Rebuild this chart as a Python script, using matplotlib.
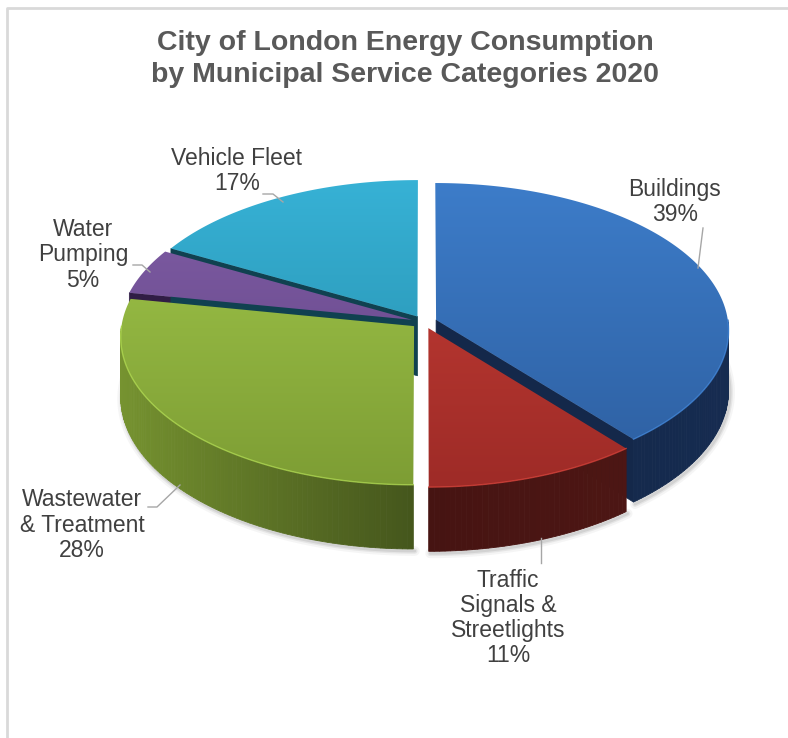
import numpy as np
import matplotlib.pyplot as plt
from matplotlib.patches import Polygon
from matplotlib.colors import to_rgb

plt.rcParams['font.family'] = ['Liberation Sans', 'DejaVu Sans']

# data
categories = ["Buildings", "Traffic\nSignals &\nStreetlights", "Wastewater\n& Treatment",
              "Water\nPumping", "Vehicle Fleet"]
values = [39, 11, 28, 5, 17]
title = "City of London Energy Consumption\nby Municipal Service Categories 2020"

# colours: top face light / dark, side wall (front, darkest)
top_hi = ["#3d7dca", "#c73e36", "#a2c84b", "#8260a8", "#37b2d6"]
top_lo = ["#2d5e9f", "#9e2b27", "#7d9d34", "#5e3f80", "#2489a6"]
side_col = ["#132646", "#461412", "#45561c", "#2e1c42", "#0f3e4c"]

# label layout (pixel coords)
label_xy = [(675, 202), (508, 618), (82, 525), (83, 255), (237, 171)]
leaders = [[(703, 228), (698, 268)],
           [(541, 563), (541, 538)],
           [(148, 507), (157, 507), (180, 485)],
           [(133, 265), (142, 265), (150, 272)],
           [(263, 194), (273, 194), (283, 202)]]

# pie geometry (pixels), p = perspective strength
cx, cy, a, b, h, p, e = 424, 322, 292, 146.8, 59.5, 0.071, 0.044

fig = plt.figure(figsize=(7.88, 7.38), dpi=100)
ax = fig.add_axes([0, 0, 1, 1])

vals = np.array(values, dtype=float)
frac = vals / vals.sum()
ends = -90 + 360 * np.cumsum(frac)
starts = ends - 360 * frac

def offset(i):
    m = np.radians((starts[i] + ends[i]) / 2)
    return e * np.cos(m), e * np.sin(m)

def proj(u, v, z=0.0):
    w = 1.0 / (1.0 - p * v)
    return (cx + a * u * w, cy + b * v * w + z * w)

def rim(t, o, z=0.0):
    t = np.radians(t)
    return proj(o[0] + np.cos(t), o[1] + np.sin(t), z)

def shade(col, f):
    return tuple(np.clip(np.array(to_rgb(col)) * f, 0, 1))

# soft shadow under the front rim
for i in range(len(values)):
    o = offset(i)
    t0, t1 = max(starts[i], -10), min(ends[i], 190)
    if t1 <= t0:
        continue
    ts = np.linspace(t0, t1, 120)
    pts = [rim(t, o, h) for t in ts]
    xs, ys = zip(*pts)
    for lw, al in [(7, 0.06), (4, 0.10), (2, 0.14)]:
        ax.plot(np.array(xs) + 1.5, np.array(ys) + 2, color='#606060', lw=lw,
                alpha=al, solid_capstyle='round', zorder=0.5)

# radial walls
for i in range(len(values)):
    o = offset(i)
    c = proj(o[0], o[1])
    cb = proj(o[0], o[1], h)
    for t, vis in [(starts[i], np.cos(np.radians(starts[i])) < -1e-6),
                   (ends[i], np.cos(np.radians(ends[i])) > 1e-6)]:
        if not vis:
            continue
        poly = [c, rim(t, o), rim(t, o, h), cb]
        col = shade(side_col[i], 1.05)
        ax.add_patch(Polygon(poly, closed=True, fc=col, ec=col, lw=0.5, zorder=1))

# outer curved walls, back to front
quads = []
for i in range(len(values)):
    o = offset(i)
    t0 = max(starts[i], 0)
    t1 = min(ends[i], 180)
    if t1 <= t0:
        continue
    ts = np.linspace(t0, t1, int((t1 - t0) / 1.0) + 2)
    for ta, tb in zip(ts[:-1], ts[1:]):
        poly = [rim(ta, o), rim(tb, o), rim(tb, o, h), rim(ta, o, h)]
        tm = np.radians((ta + tb) / 2)
        f = 1.0 + 0.72 * max(0.0, -np.cos(tm)) + 0.15 * max(0.0, np.cos(tm))
        quads.append((np.sin(tm), poly, shade(side_col[i], f)))
quads.sort(key=lambda q: q[0])
for _, poly, col in quads:
    ax.add_patch(Polygon(poly, closed=True, fc=col, ec=col, lw=0.6, zorder=2))

# top faces with vertical gradient
y_top, y_bot = cy - b / (1 + p) - 8, cy + b / (1 - p) + 8
for i in range(len(values)):
    o = offset(i)
    ts = np.linspace(starts[i], ends[i], 200)
    pts = [proj(o[0], o[1])] + [rim(t, o) for t in ts]
    patch = Polygon(pts, closed=True, fc='none', ec='none', zorder=3)
    ax.add_patch(patch)
    hi, lo = np.array(to_rgb(top_hi[i])), np.array(to_rgb(top_lo[i]))
    g = np.linspace(0, 1, 256)[:, None, None]
    img = hi[None, None, :] * (1 - g) + lo[None, None, :] * g
    im = ax.imshow(img, extent=(cx - a - 30, cx + a + 30, y_bot, y_top), origin='upper',
                   aspect='auto', zorder=3, interpolation='bilinear')
    im.set_clip_path(patch)
    # light rim highlight on the front edge
    t0, t1 = max(starts[i], 0), min(ends[i], 180)
    if t1 > t0:
        hs = np.linspace(t0, t1, 100)
        hx, hy = zip(*[rim(t, o) for t in hs])
        ax.plot(hx, hy, color=shade(top_hi[i], 1.12), lw=1.0, alpha=0.7, zorder=3.5)

# labels and leader lines
for i in range(len(values)):
    txt = f"{categories[i]}\n{values[i]:.0f}%"
    ax.text(label_xy[i][0], label_xy[i][1], txt, ha='center', va='center',
            fontsize=16.5, color='#404040', linespacing=1.12, zorder=5)
    xs, ys = zip(*leaders[i])
    ax.plot(xs, ys, color='#a6a6a6', lw=1.0, zorder=4)

ax.text(405, 59, title, ha='center', va='center', fontsize=20.5, fontweight='bold',
        color='#595959', linespacing=1.28, zorder=5)

# frame
ax.plot([7, 7, 788], [738, 8, 8], color='#d9d9d9', lw=2, zorder=0)

ax.set_xlim(0, 788)
ax.set_ylim(738, 0)
ax.axis('off')
fig.savefig('out.png', dpi=100)
